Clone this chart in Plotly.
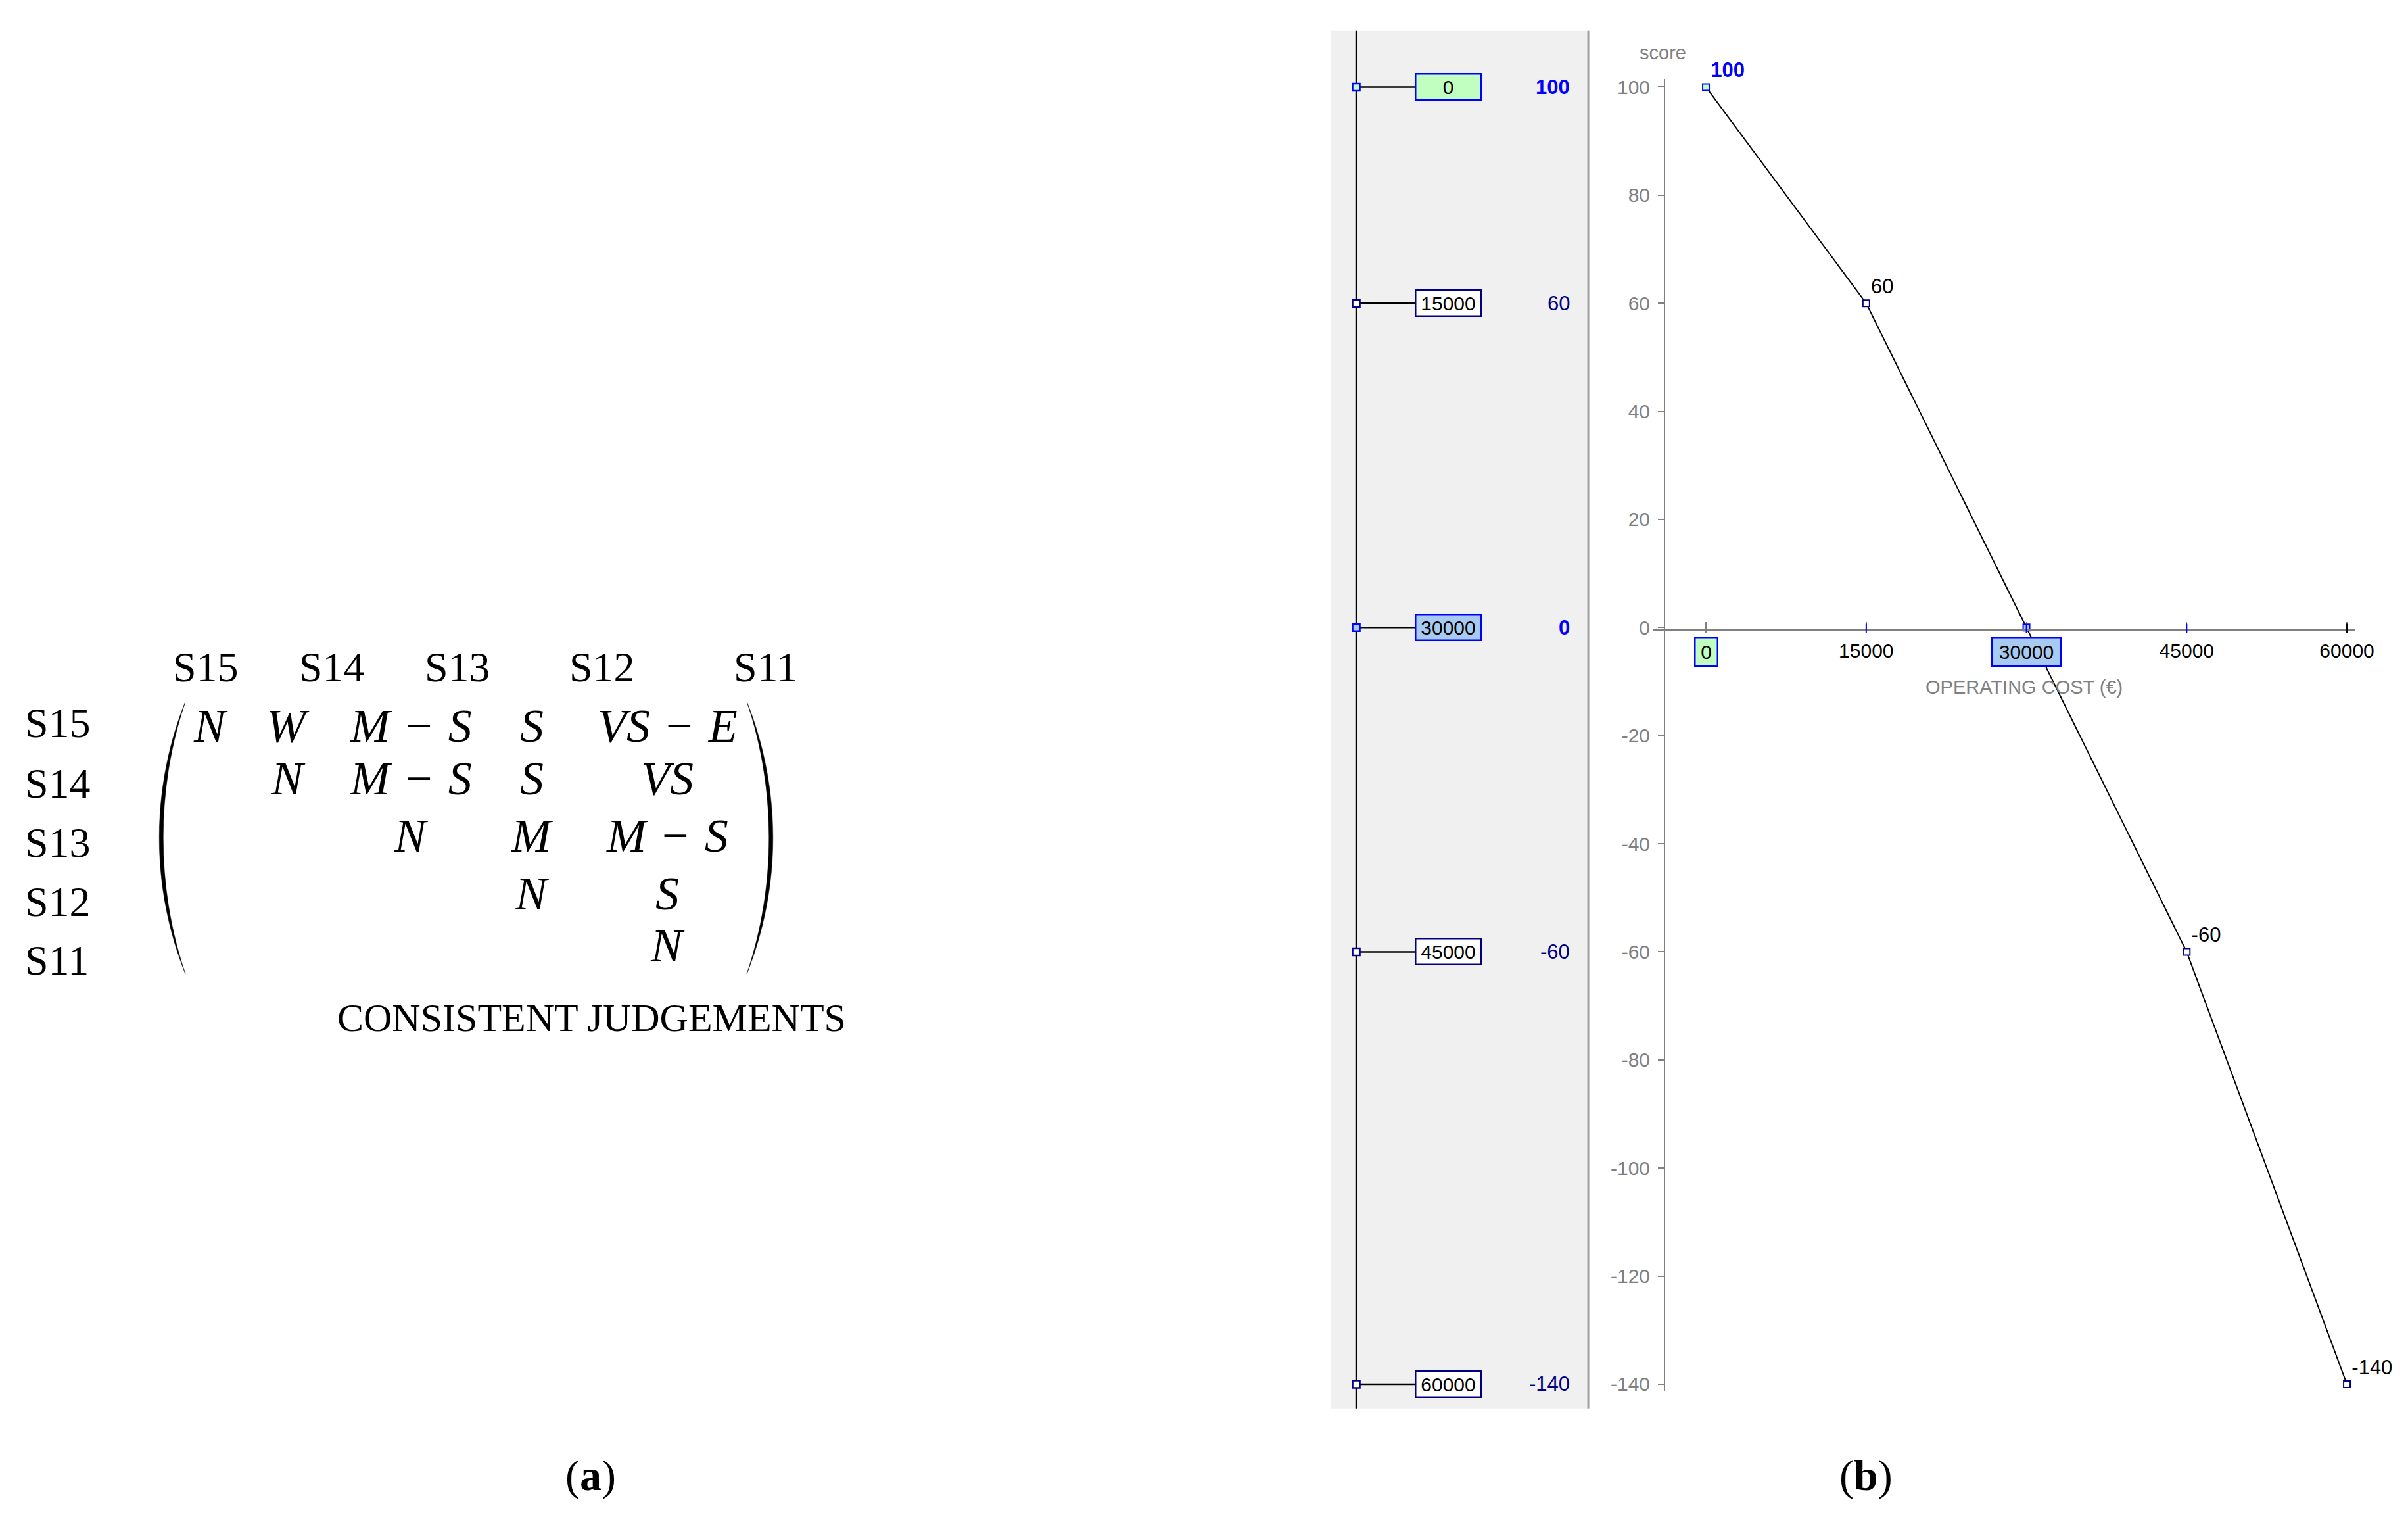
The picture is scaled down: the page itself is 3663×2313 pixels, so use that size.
import plotly.graph_objects as go

W, H = 3663, 2313

# ---------------- data ----------------
COST = [0, 15000, 30000, 45000, 60000]
SCORE = [100, 60, 0, -60, -140]
COST_LABELS = ["0", "15000", "30000", "45000", "60000"]
SCORE_LABELS = ["100", "60", "0", "-60", "-140"]
POINT_LABELS = ["<b>100</b>", "60", "", "-60", "-140"]
X_TICKS = [0, 15000, 30000, 45000, 60000]
X_TICK_TEXT = ["", "15000", "", "45000", "60000"]   # 0 and 30000 are drawn boxed
BOXED_X_LABELS = ["0", "30000"]
BOXED_X_VALUES = [0, 30000]
Y_TICKS = [100, 80, 60, 40, 20, 0, -20, -40, -60, -80, -100, -120, -140]
Y_TICK_TEXT = ["100", "80", "60", "40", "20", "0", "-20", "-40", "-60", "-80", "-100", "-120", "-140"]
X_TITLE = "OPERATING COST (€)"
Y_TITLE = "score"

SYSTEMS = ["S15", "S14", "S13", "S12", "S11"]
JUDGEMENTS = [
    ["N", "W", "M − S", "S", "VS − E"],
    ["N", "M − S", "S", "VS"],
    ["N", "M", "M − S"],
    ["N", "S"],
    ["N"],
]
CAPTION_A = "CONSISTENT JUDGEMENTS"
PANEL_LABELS = ["a", "b"]

# ---------------- styles ----------------
FILL = ["#c0ffc0", "#ffffff", "#a6caf0", "#ffffff", "#ffffff"]
BORDER = ["#0000ff", "#000080", "#0000ff", "#000080", "#000080"]
HIGHLIGHT = [True, False, True, False, False]
X_TICK_COLORS = ["#808080", "#0000ff", "#0000ff", "#0000ff", "#000000"]
POINT_LABEL_COLORS = ["#0000ff", "#000000", "#000000", "#000000", "#000000"]
GRAY = "#808080"
SANS = "Liberation Sans"
SERIF = "Liberation Serif"
SX = 1.008   # small horizontal compensation


def fx(p):
    return p * SX / W


def fy(p):
    return 1 - p / H


# pixel calibration of the right chart
X_PX0, X_PX1 = 2595, 3570          # pixel of first / last cost tick
kx = (X_PX1 - X_PX0) / (X_TICKS[-1] - X_TICKS[0])
XDOM = (2515, 3583)
x_range = [X_TICKS[0] + (XDOM[0] - X_PX0) / kx, X_TICKS[0] + (XDOM[1] - X_PX0) / kx]

Y_PX_TOP, Y_PX_BOT = 128, 2110      # pixel of first / last score tick
ky = (Y_PX_BOT - Y_PX_TOP) / (Y_TICKS[0] - Y_TICKS[-1])
YDOM = (116, 2121)
y_range = [Y_TICKS[0] - (YDOM[1] - Y_PX_TOP) / ky, Y_TICKS[0] + (Y_PX_TOP - YDOM[0]) / ky]

fig = go.Figure()

# right chart: value function
fig.add_trace(go.Scatter(
    x=COST, y=SCORE, mode="lines+markers+text",
    text=POINT_LABELS, textposition="top right",
    textfont=dict(family=SANS, size=31, color=POINT_LABEL_COLORS),
    line=dict(color="black", width=2),
    marker=dict(symbol="square", size=10, color=FILL, line=dict(color=BORDER, width=2)),
    cliponaxis=False, hoverinfo="skip", showlegend=False,
))

# left panel: the scale markers
LINE_X = 2063
fig.add_trace(go.Scatter(
    x=[LINE_X] * len(SCORE), y=SCORE, xaxis="x2", yaxis="y2", mode="markers",
    marker=dict(symbol="square", size=11, color=FILL, line=dict(color=BORDER, width=2.5)),
    cliponaxis=False, hoverinfo="skip", showlegend=False,
))

shapes = []
# gray panel
shapes.append(dict(type="rect", xref="paper", yref="paper", x0=fx(2025), x1=fx(2416),
                   y0=fy(2147), y1=fy(42), fillcolor="#f0f0f0", line=dict(width=0), layer="below"))
shapes.append(dict(type="line", xref="paper", yref="paper", x0=fx(2416), x1=fx(2416),
                   y0=fy(2147), y1=fy(42), line=dict(color="#a0a0a0", width=3), layer="below"))
shapes.append(dict(type="line", xref="x2", yref="paper", x0=LINE_X, x1=LINE_X,
                   y0=fy(2147), y1=fy(42), line=dict(color="black", width=2.5), layer="below"))
for s in SCORE:
    shapes.append(dict(type="line", xref="x2", yref="y2", x0=LINE_X, x1=2152, y0=s, y1=s,
                       line=dict(color="black", width=2.5), layer="below"))
# coloured x ticks
for t, c in zip(X_TICKS, X_TICK_COLORS):
    shapes.append(dict(type="line", xref="x", yref="paper", x0=t, x1=t,
                       y0=fy(962), y1=fy(948), line=dict(color=c, width=2)))


# parentheses of the matrix
def P(x, y):
    return f"{fx(x):.6f},{fy(y):.6f}"


lp = f"M {P(282,1067)} C {P(229,1200)} {P(229,1350)} {P(282,1483)} C {P(237,1350)} {P(237,1200)} {P(282,1067)} Z"
rp = f"M {P(1136,1067)} C {P(1189,1200)} {P(1189,1350)} {P(1136,1483)} C {P(1181,1350)} {P(1181,1200)} {P(1136,1067)} Z"
for pth in (lp, rp):
    shapes.append(dict(type="path", xref="paper", yref="paper", path=pth,
                       fillcolor="black", line=dict(color="black", width=0.5)))

ann = []
# left panel boxes and values
for lab, s, fc, bc, hl in zip(COST_LABELS, SCORE, FILL, BORDER, HIGHLIGHT):
    ann.append(dict(xref="x2", yref="y2", x=2203, y=s, text=lab, showarrow=False,
                    font=dict(family=SANS, size=30, color="black"),
                    bgcolor=fc, bordercolor=bc, borderwidth=2.5, borderpad=0,
                    width=97, height=37, xanchor="center", yanchor="middle"))
for lab, s, hl in zip(SCORE_LABELS, SCORE, HIGHLIGHT):
    ann.append(dict(xref="x2", yref="y2", x=2390, y=s,
                    text=f"<b>{lab}</b>" if hl else lab, showarrow=False,
                    font=dict(family=SANS, size=31, color="#0000ff" if hl else "#000080"),
                    xanchor="right", yanchor="middle"))
# boxed x tick labels
for lab, v in zip(BOXED_X_LABELS, BOXED_X_VALUES):
    i = COST.index(v)
    ann.append(dict(xref="x", yref="paper", x=v, y=fy(991), text=lab, showarrow=False,
                    font=dict(family=SANS, size=30, color="black"),
                    bgcolor=FILL[i], bordercolor=BORDER[i], borderwidth=2.5, borderpad=0,
                    width=(32 if len(lab) == 1 else 102), height=41,
                    xanchor="center", yanchor="middle"))
ann.append(dict(xref="paper", yref="paper", x=fx(3079), y=fy(1045), text=X_TITLE, showarrow=False,
                font=dict(family=SANS, size=29, color=GRAY), xanchor="center", yanchor="middle"))
ann.append(dict(xref="paper", yref="paper", x=fx(2529), y=fy(75), text=Y_TITLE, showarrow=False,
                font=dict(family=SANS, size=29, color=GRAY), xanchor="center", yanchor="middle"))

# matrix (a)
COL_X = [313, 505, 696, 916, 1164]
ROW_LAB_Y = [1100, 1192, 1283, 1373, 1462]
ENTRY_X = [320, 438, 625, 809, 1015]
ENTRY_Y = [1104, 1185, 1272, 1360, 1440]
for name, x in zip(SYSTEMS, COL_X):
    ann.append(dict(xref="paper", yref="paper", x=fx(x), y=fy(1014), text=name, showarrow=False,
                    font=dict(family=SERIF, size=64, color="black"), xanchor="center", yanchor="middle"))
for name, y in zip(SYSTEMS, ROW_LAB_Y):
    ann.append(dict(xref="paper", yref="paper", x=fx(36), y=fy(y), text=name, showarrow=False,
                    font=dict(family=SERIF, size=64, color="black"), xanchor="left", yanchor="middle"))

GAP = "\u2004"


def italic(expr):
    return (GAP + "−" + GAP).join(f"<i>{p.strip()}</i>" for p in expr.split("−"))


for r, row in enumerate(JUDGEMENTS):
    for k, val in enumerate(row):
        c = r + k
        ann.append(dict(xref="paper", yref="paper", x=fx(ENTRY_X[c]), y=fy(ENTRY_Y[r]),
                        text=italic(val), showarrow=False,
                        font=dict(family=SERIF, size=72, color="black"),
                        xanchor="center", yanchor="middle"))
ann.append(dict(xref="paper", yref="paper", x=fx(900), y=fy(1550), text=CAPTION_A, showarrow=False,
                font=dict(family=SERIF, size=60, color="black"), xanchor="center", yanchor="middle"))
for lab, x in zip(PANEL_LABELS, [898, 2838]):
    ann.append(dict(xref="paper", yref="paper", x=fx(x), y=fy(2250), text=f"(<b>{lab}</b>)",
                    showarrow=False, font=dict(family=SERIF, size=66, color="black"),
                    xanchor="center", yanchor="middle"))

fig.update_layout(
    width=W, height=H, autosize=False,
    margin=dict(l=0, r=0, t=0, b=0, pad=0),
    paper_bgcolor="white", plot_bgcolor="rgba(0,0,0,0)",
    showlegend=False,
    xaxis=dict(domain=[fx(XDOM[0]), min(1.0, fx(XDOM[1]))], range=x_range, anchor="free",
               position=fy(957),
               showline=True, linecolor=GRAY, linewidth=3, ticks="inside", ticklen=10, tickwidth=2,
               tickcolor=GRAY, tickvals=X_TICKS, ticktext=X_TICK_TEXT,
               tickfont=dict(family=SANS, size=30, color="black"), ticklabelstandoff=5,
               showgrid=False, zeroline=False, fixedrange=True),
    yaxis=dict(domain=[fy(YDOM[1]), fy(YDOM[0])], range=y_range, anchor="free", position=fx(2532),
               showline=True, linecolor=GRAY, linewidth=2, ticks="outside", ticklen=9, tickwidth=2,
               tickcolor=GRAY, tickvals=Y_TICKS, ticktext=Y_TICK_TEXT,
               tickfont=dict(family=SANS, size=30, color=GRAY), ticklabelstandoff=6,
               showgrid=False, zeroline=False, fixedrange=True),
    xaxis2=dict(domain=[fx(2025), fx(2416)], range=[2025, 2416], anchor="y2", visible=False,
                fixedrange=True),
    yaxis2=dict(domain=[fy(YDOM[1]), fy(YDOM[0])], range=y_range, anchor="x2", visible=False,
                fixedrange=True),
    shapes=shapes, annotations=ann,
)

fig.write_html("out.html", config={"displayModeBar": False},
               post_script="document.body.style.margin='0px';document.body.style.overflow='hidden';")
